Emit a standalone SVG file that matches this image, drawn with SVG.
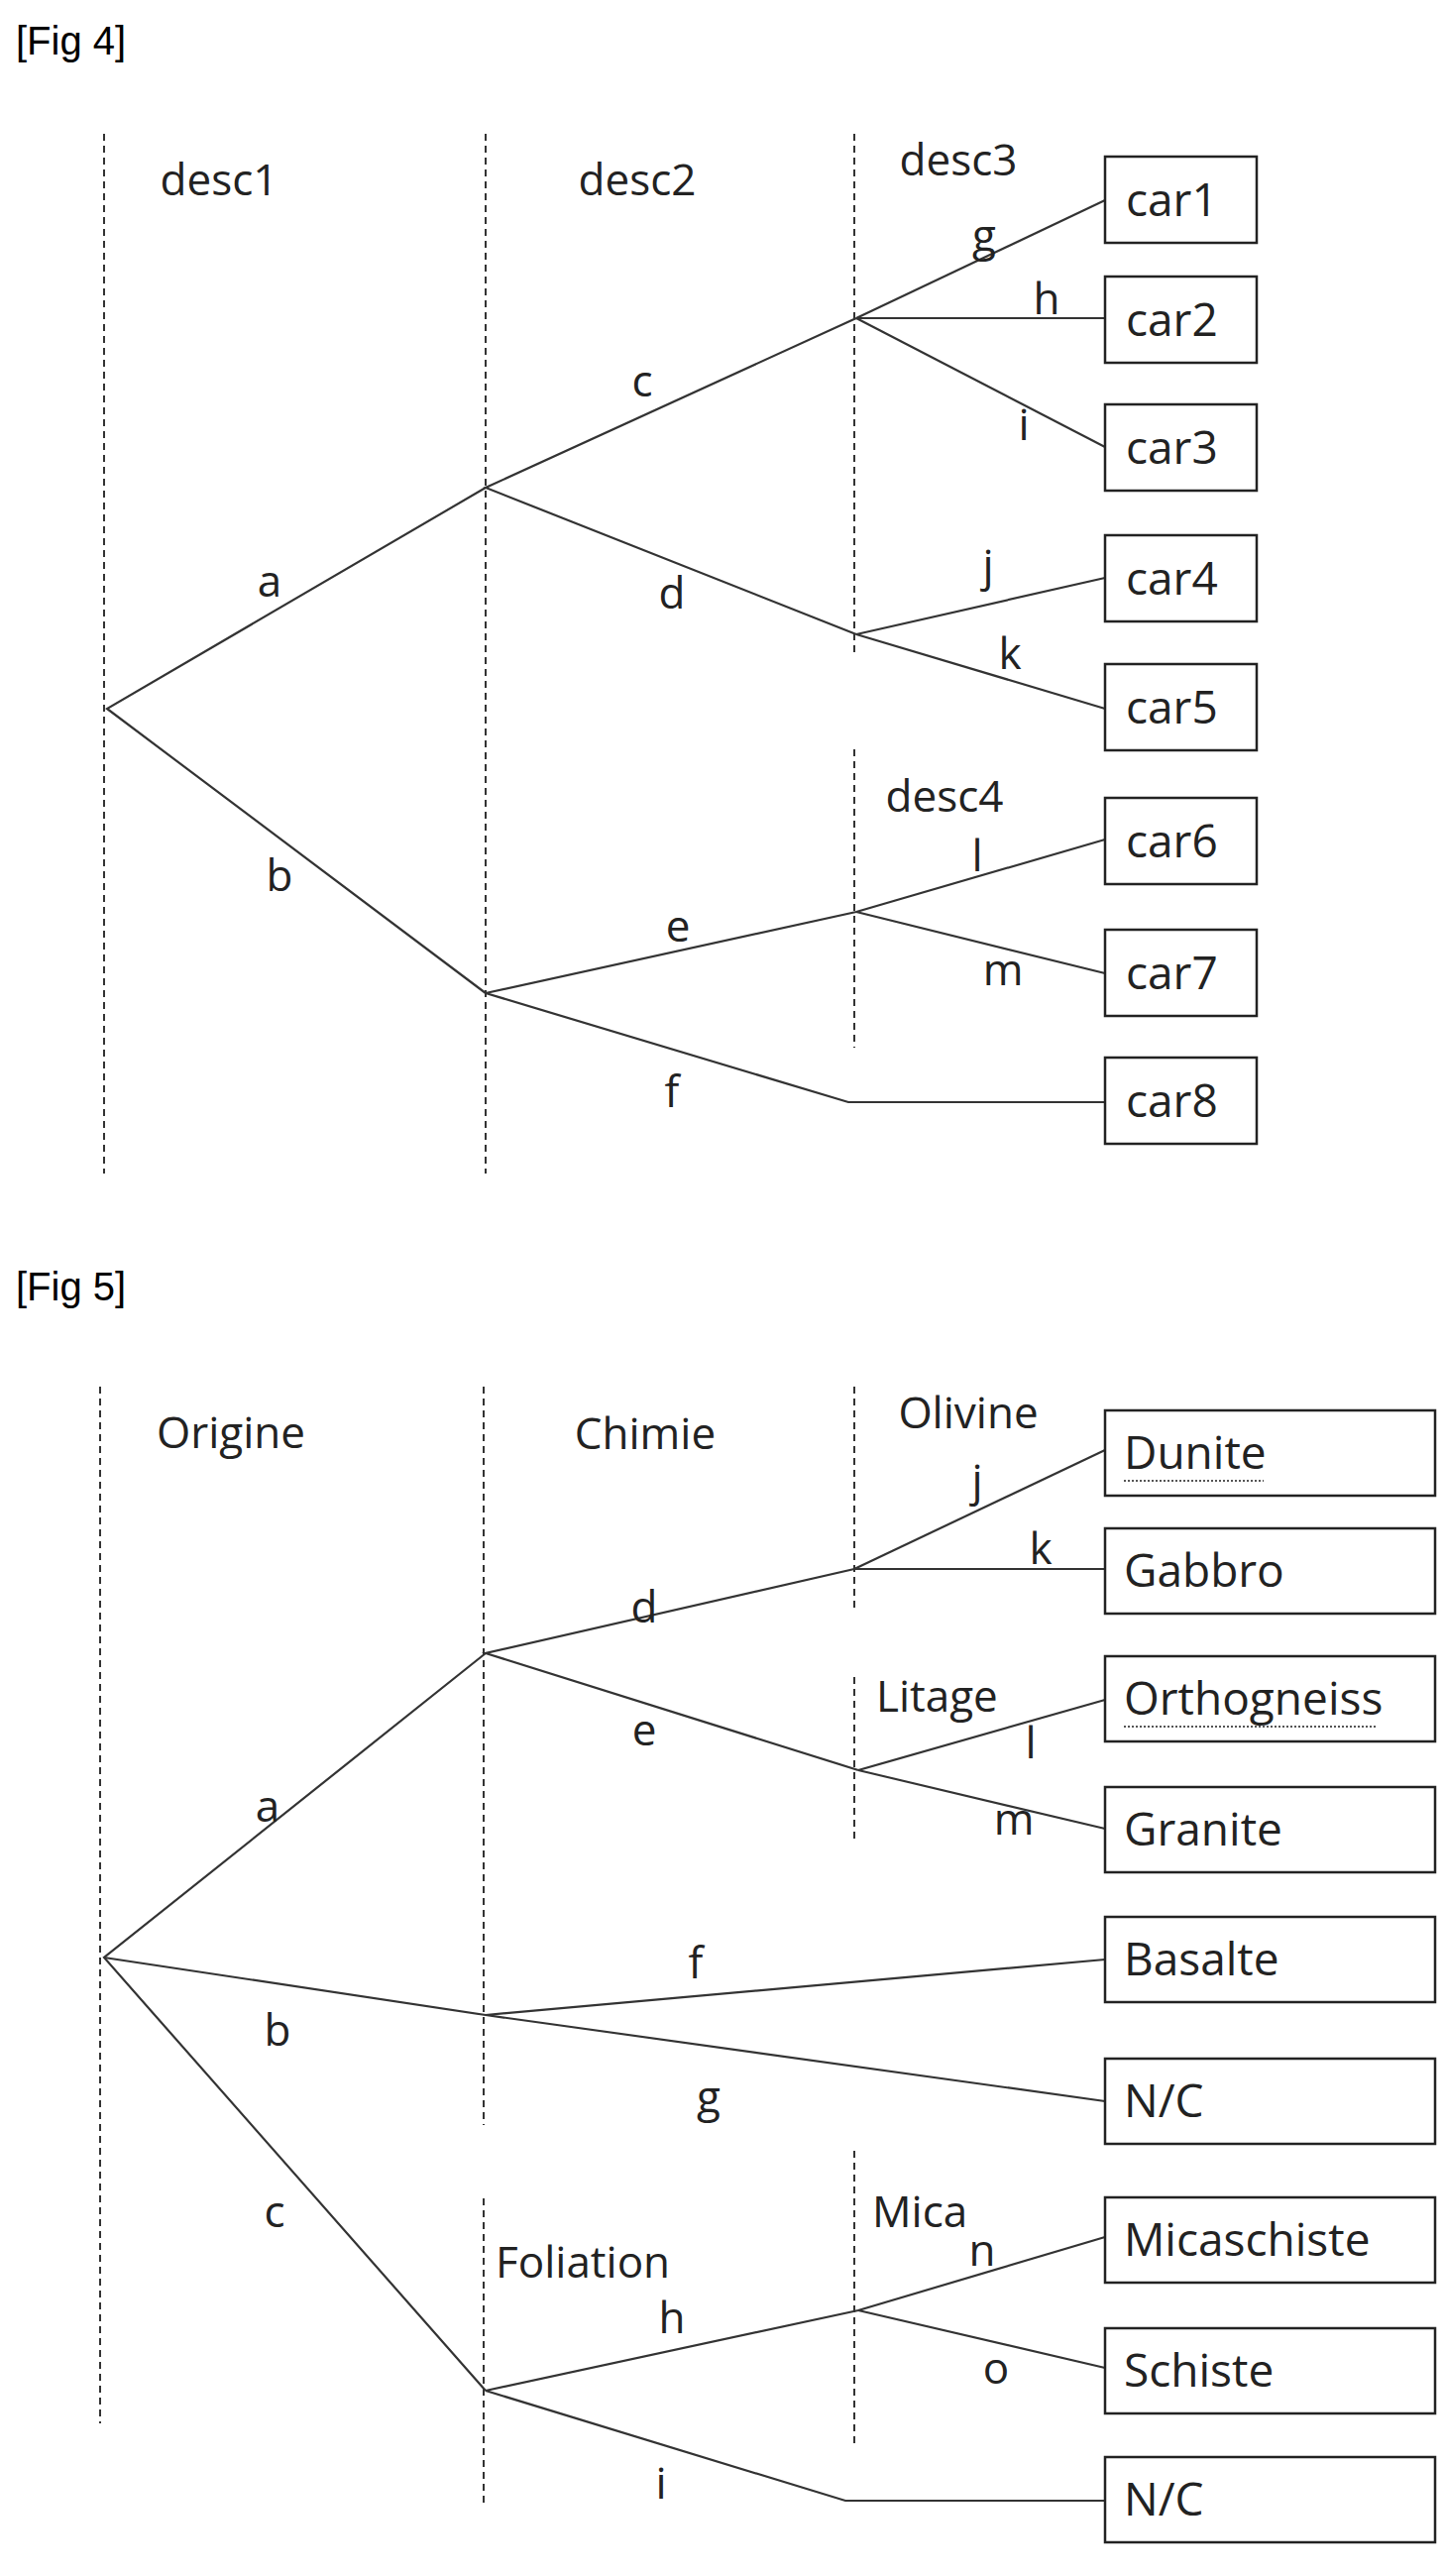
<svg xmlns="http://www.w3.org/2000/svg" width="1457" height="2599" viewBox="0 0 1457 2599">
<style>
.t{font-family:"Open Sans","Liberation Sans",sans-serif;font-size:44px;fill:#222;text-anchor:middle}
.bt{font-family:"Open Sans","Liberation Sans",sans-serif;font-size:46px;fill:#222}
.ft{font-family:"Liberation Sans",Arial,sans-serif;font-size:40px;fill:#000}
.dl{stroke:#333;stroke-width:2;stroke-dasharray:7 5;fill:none}
.e{stroke:#333;stroke-width:2.2;fill:none}
.b{fill:#fff;stroke:#222;stroke-width:2.5}
.u{stroke:#555;stroke-width:2;stroke-dasharray:2 2}
</style>
<text class="ft" x="16" y="55">[Fig 4]</text>
<text class="ft" x="16" y="1312">[Fig 5]</text>
<g id="guides">
<line class="dl" x1="105" y1="135" x2="105" y2="1184"/>
<line class="dl" x1="490" y1="135" x2="490" y2="1184"/>
<line class="dl" x1="862" y1="135" x2="862" y2="660"/>
<line class="dl" x1="862" y1="756" x2="862" y2="1057"/>
<line class="dl" x1="101" y1="1399" x2="101" y2="2445"/>
<line class="dl" x1="488" y1="1399" x2="488" y2="2144"/>
<line class="dl" x1="488" y1="2218" x2="488" y2="2526"/>
<line class="dl" x1="862" y1="1399" x2="862" y2="1625"/>
<line class="dl" x1="862" y1="1692" x2="862" y2="1858"/>
<line class="dl" x1="862" y1="2170" x2="862" y2="2470"/>
</g>
<g id="headers">
<text class="t" x="221" y="197">desc1</text>
<text class="t" x="643" y="197">desc2</text>
<text class="t" x="967" y="177">desc3</text>
<text class="t" x="953" y="819">desc4</text>
<text class="t" x="233" y="1461">Origine</text>
<text class="t" x="651" y="1462">Chimie</text>
<text class="t" x="977" y="1441">Olivine</text>
<text class="t" x="884" y="1727" style="text-anchor:start">Litage</text>
<text class="t" x="500" y="2298" style="text-anchor:start">Foliation</text>
<text class="t" x="880" y="2247" style="text-anchor:start">Mica</text>
</g>
<g id="connectors">
<polyline class="e" points="490,492 108,715 490,1002"/>
<polyline class="e" points="864,321 490,492 864,640"/>
<line class="e" x1="864" y1="321" x2="1115" y2="202"/>
<line class="e" x1="864" y1="321" x2="1115" y2="321"/>
<line class="e" x1="864" y1="321" x2="1115" y2="451"/>
<line class="e" x1="864" y1="640" x2="1115" y2="583"/>
<line class="e" x1="864" y1="640" x2="1115" y2="715"/>
<line class="e" x1="490" y1="1002" x2="864" y2="920"/>
<line class="e" x1="864" y1="920" x2="1115" y2="847"/>
<line class="e" x1="864" y1="920" x2="1115" y2="982"/>
<polyline class="e" points="490,1002 856,1112 1115,1112"/>
<polyline class="e" points="490,1668 105,1975 490,2412"/>
<polyline class="e" points="862,1583 490,1668 866,1786"/>
<line class="e" x1="862" y1="1583" x2="1115" y2="1463"/>
<line class="e" x1="862" y1="1583" x2="1115" y2="1583"/>
<line class="e" x1="866" y1="1786" x2="1115" y2="1715"/>
<line class="e" x1="866" y1="1786" x2="1115" y2="1845"/>
<polyline class="e" points="105,1975 490,2033 1115,2120"/>
<line class="e" x1="490" y1="2033" x2="1115" y2="1977"/>
<line class="e" x1="490" y1="2412" x2="866" y2="2331"/>
<line class="e" x1="866" y1="2331" x2="1115" y2="2257"/>
<line class="e" x1="866" y1="2331" x2="1115" y2="2389"/>
<polyline class="e" points="490,2412 853,2523 1115,2523"/>
</g>
<g id="edge-labels">
<text class="t" x="272" y="602">a</text>
<text class="t" x="282" y="899">b</text>
<text class="t" x="648" y="400">c</text>
<text class="t" x="678" y="614">d</text>
<text class="t" x="684" y="950">e</text>
<text class="t" x="678" y="1117">f</text>
<text class="t" x="993" y="253">g</text>
<text class="t" x="1056" y="317">h</text>
<text class="t" x="1033" y="444">i</text>
<text class="t" x="997" y="586">j</text>
<text class="t" x="1019" y="675">k</text>
<text class="t" x="986" y="879">l</text>
<text class="t" x="1012" y="994">m</text>
<text class="t" x="270" y="1838">a</text>
<text class="t" x="280" y="2064">b</text>
<text class="t" x="277" y="2247">c</text>
<text class="t" x="650" y="1637">d</text>
<text class="t" x="650" y="1761">e</text>
<text class="t" x="702" y="1996">f</text>
<text class="t" x="715" y="2131">g</text>
<text class="t" x="678" y="2354">h</text>
<text class="t" x="667" y="2521">i</text>
<text class="t" x="986" y="1509">j</text>
<text class="t" x="1050" y="1578">k</text>
<text class="t" x="1040" y="1774">l</text>
<text class="t" x="1023" y="1851">m</text>
<text class="t" x="991" y="2286">n</text>
<text class="t" x="1005" y="2405">o</text>
</g>
<g id="car1"><rect class="b" x="1115" y="158" width="153" height="87"/><text class="bt" x="1136" y="218">car1</text></g>
<g id="car2"><rect class="b" x="1115" y="279" width="153" height="87"/><text class="bt" x="1136" y="339">car2</text></g>
<g id="car3"><rect class="b" x="1115" y="408" width="153" height="87"/><text class="bt" x="1136" y="468">car3</text></g>
<g id="car4"><rect class="b" x="1115" y="540" width="153" height="87"/><text class="bt" x="1136" y="600">car4</text></g>
<g id="car5"><rect class="b" x="1115" y="670" width="153" height="87"/><text class="bt" x="1136" y="730">car5</text></g>
<g id="car6"><rect class="b" x="1115" y="805" width="153" height="87"/><text class="bt" x="1136" y="865">car6</text></g>
<g id="car7"><rect class="b" x="1115" y="938" width="153" height="87"/><text class="bt" x="1136" y="998">car7</text></g>
<g id="car8"><rect class="b" x="1115" y="1067" width="153" height="87"/><text class="bt" x="1136" y="1127">car8</text></g>
<g id="dunite"><rect class="b" x="1115" y="1423" width="333" height="86"/><text class="bt" x="1134" y="1482">Dunite</text><line class="u" x1="1134" y1="1494" x2="1275" y2="1494"/></g>
<g id="gabbro"><rect class="b" x="1115" y="1542" width="333" height="86"/><text class="bt" x="1134" y="1601">Gabbro</text></g>
<g id="orthogneiss"><rect class="b" x="1115" y="1671" width="333" height="86"/><text class="bt" x="1134" y="1730">Orthogneiss</text><line class="u" x1="1134" y1="1742" x2="1390" y2="1742"/></g>
<g id="granite"><rect class="b" x="1115" y="1803" width="333" height="86"/><text class="bt" x="1134" y="1862">Granite</text></g>
<g id="basalte"><rect class="b" x="1115" y="1934" width="333" height="86"/><text class="bt" x="1134" y="1993">Basalte</text></g>
<g id="nc1"><rect class="b" x="1115" y="2077" width="333" height="86"/><text class="bt" x="1134" y="2136">N/C</text></g>
<g id="micaschiste"><rect class="b" x="1115" y="2217" width="333" height="86"/><text class="bt" x="1134" y="2276">Micaschiste</text></g>
<g id="schiste"><rect class="b" x="1115" y="2349" width="333" height="86"/><text class="bt" x="1134" y="2408">Schiste</text></g>
<g id="nc2"><rect class="b" x="1115" y="2479" width="333" height="86"/><text class="bt" x="1134" y="2538">N/C</text></g>
</svg>
